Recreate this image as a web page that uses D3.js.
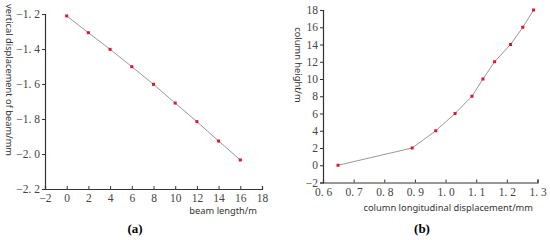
<!DOCTYPE html>
<html>
<head>
<meta charset="utf-8">
<script src="https://cdn.jsdelivr.net/npm/d3@7"></script>
<style>
  body { margin: 0; background: #fff; }
  .lab { font-family: "Noto Sans", sans-serif; font-size: 9.3px; fill: #333; }
</style>
</head>
<body>
<div id="graphicContainer"></div>
<script>
// (a) beam
var beamLength = [0, 2, 4, 6, 8, 10, 12, 14, 16]
var beamDisp = [-1.211, -1.307, -1.402, -1.501, -1.602, -1.709, -1.815, -1.926, -2.034]
var beamXTicks = [-2, 0, 2, 4, 6, 8, 10, 12, 14, 16, 18]
var beamYTicks = [-2.2, -2.0, -1.8, -1.6, -1.4, -1.2]

// (b) column
var colDisp = [0.649, 0.891, 0.968, 1.031, 1.086, 1.122, 1.160, 1.212, 1.252, 1.287]
var colHeight = [0, 2, 4, 6, 8, 10, 12, 14, 16, 18]
var colXTicks = [0.6, 0.7, 0.8, 0.9, 1.0, 1.1, 1.2, 1.3]
var colYTicks = [-2, 0, 2, 4, 6, 8, 10, 12, 14, 16, 18]

var svg = d3.select("#graphicContainer")
  .append("svg")
  .attr("width", 550)
  .attr("height", 240)

function panel(opt) {
  var x = d3.scaleLinear().domain(opt.xDomain).range(opt.xRange)
  var y = d3.scaleLinear().domain(opt.yDomain).range(opt.yRange)

  var xAxis = svg.append("g")
    .attr("transform", "translate(0," + opt.yRange[0] + ")")
    .call(d3.axisBottom(x).tickValues(opt.xTicks).tickSize(-3).tickPadding(5).tickFormat(opt.xFmt))
  var yAxis = svg.append("g")
    .attr("transform", "translate(" + opt.xRange[0] + ",0)")
    .call(d3.axisLeft(y).tickValues(opt.yTicks).tickSize(3).tickPadding(2).tickFormat(opt.yFmt))

  ;[xAxis, yAxis].forEach(function (a) {
    a.attr("font-family", "Liberation Serif").attr("font-size", 11.5)
    a.select(".domain").attr("stroke", "#333").attr("stroke-width", 1.2)
    a.selectAll(".tick line").attr("stroke", "#333")
    a.selectAll(".tick text").attr("fill", "#444")
  })

  var line = d3.line()
    .x(function (d) { return x(d[0]) })
    .y(function (d) { return y(d[1]) })
    .curve(opt.curve)

  var pts = opt.xs.map(function (v, i) { return [v, opt.ys[i]] })

  svg.append("path")
    .datum(pts)
    .attr("fill", "none")
    .attr("stroke", "#999")
    .attr("stroke-width", 1)
    .attr("d", line)

  svg.append("g").selectAll("rect")
    .data(pts)
    .join("rect")
    .attr("x", function (d) { return x(d[0]) - 1.5 })
    .attr("y", function (d) { return y(d[1]) - 1.5 })
    .attr("width", 3)
    .attr("height", 3)
    .attr("fill", "#e8112d")
}

panel({
  xs: beamLength, ys: beamDisp,
  xDomain: [-2, 18], xRange: [45, 262],
  yDomain: [-2.2, -1.2], yRange: [189, 14],
  xTicks: beamXTicks, yTicks: beamYTicks,
  xFmt: function (d) { return d < 0 ? "\u2212" + (-d) : d },
  yFmt: function (d) { return "\u2212" + d3.format(".1f")(-d).replace(".", ". ") },
  curve: d3.curveLinear
})

panel({
  xs: colDisp, ys: colHeight,
  xDomain: [0.6, 1.3], xRange: [323, 537.5],
  yDomain: [-2, 18], yRange: [182.5, 10],
  xTicks: colXTicks, yTicks: colYTicks,
  xFmt: function (d) { return d3.format(".1f")(d).replace(".", ". ") },
  yFmt: function (d) { return d < 0 ? "\u2212" + (-d) : d },
  curve: d3.curveLinear
})

// axis titles
svg.append("text").attr("class", "lab")
  .attr("x", 257).attr("y", 214).attr("text-anchor", "end")
  .text("beam length/m")
svg.append("text").attr("class", "lab")
  .attr("transform", "translate(6,80) rotate(90)")
  .attr("text-anchor", "middle")
  .text("vertical displacement of beam/mm")
svg.append("text").attr("class", "lab")
  .attr("x", 533).attr("y", 211).attr("text-anchor", "end")
  .text("column longitudinal displacement/mm")
svg.append("text").attr("class", "lab")
  .attr("transform", "translate(295,65) rotate(90)")
  .attr("text-anchor", "middle")
  .text("column height/m")

// panel letters
svg.append("text")
  .attr("x", 135).attr("y", 233).attr("text-anchor", "middle")
  .style("font", "bold 13px 'Liberation Serif', serif")
  .text("(a)")
svg.append("text")
  .attr("x", 422).attr("y", 233).attr("text-anchor", "middle")
  .style("font", "bold 13px 'Liberation Serif', serif")
  .text("(b)")
</script>
</body>
</html>
